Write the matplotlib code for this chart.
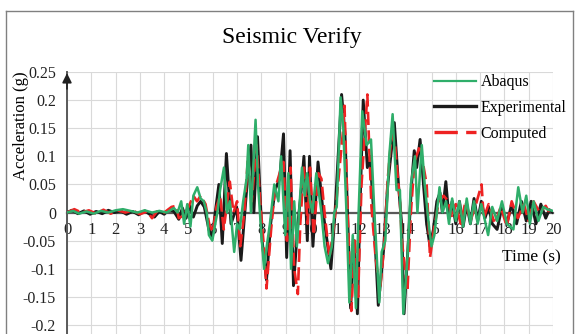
import numpy as np
import matplotlib
matplotlib.use('Agg')
import matplotlib.pyplot as plt
from matplotlib.lines import Line2D

plt.rcParams['font.family'] = ['Liberation Serif', 'DejaVu Serif']

# 读图得到的加速度时程 (time s, acceleration g)
abaqus_pts = [
    (0.0, 0.0), (0.25, 0.003), (0.5, -0.002), (0.8, 0.002), (1.1, -0.002), (1.4, 0.003),
    (1.7, 0.0), (2.0, 0.004), (2.3, 0.006), (2.6, 0.003), (2.9, 0.0), (3.2, 0.004),
    (3.5, 0.0), (3.8, 0.003), (4.1, 0.0), (4.4, 0.008), (4.55, 0.0), (4.7, 0.02),
    (4.82, -0.02), (4.95, 0.015), (5.08, -0.025), (5.2, 0.03), (5.36, 0.045), (5.5, 0.025),
    (5.63, 0.02), (5.75, 0.0), (5.84, -0.04), (5.98, -0.05), (6.1, -0.02), (6.19, 0.0),
    (6.3, 0.04), (6.46, 0.08), (6.58, 0.0), (6.7, 0.02), (6.88, -0.07), (7.0, -0.02),
    (7.11, -0.03), (7.25, 0.02), (7.39, 0.06), (7.46, 0.12), (7.57, 0.0), (7.76, 0.165),
    (7.86, 0.05), (8.0, -0.04), (8.11, -0.1), (8.22, -0.06), (8.35, -0.02), (8.53, 0.05),
    (8.7, 0.02), (8.81, 0.1), (8.98, -0.04), (9.11, 0.07), (9.22, -0.1), (9.35, 0.02),
    (9.46, -0.06), (9.67, 0.08), (9.78, 0.03), (9.88, 0.07), (10.0, 0.02), (10.1, 0.0),
    (10.26, 0.07), (10.47, 0.0), (10.6, -0.06), (10.74, -0.09), (10.9, -0.06), (11.0, 0.0),
    (11.1, 0.01), (11.26, 0.205), (11.37, 0.15), (11.5, 0.0), (11.62, -0.16), (11.76, -0.04),
    (11.89, -0.17), (12.0, 0.0), (12.15, 0.18), (12.33, 0.12), (12.51, 0.13), (12.65, 0.0),
    (12.85, -0.16), (12.95, -0.07), (13.1, -0.05), (13.26, 0.1), (13.4, 0.175), (13.56, 0.04),
    (13.7, 0.04), (13.84, -0.18), (14.01, -0.08), (14.15, 0.05), (14.32, 0.1), (14.42, 0.0),
    (14.6, 0.12), (14.72, 0.05), (14.91, -0.03), (15.0, -0.06), (15.12, -0.04), (15.22, 0.0),
    (15.33, 0.045), (15.45, 0.0), (15.6, 0.02), (15.72, -0.02), (15.85, 0.025), (16.0, -0.015),
    (16.15, 0.02), (16.3, -0.025), (16.45, 0.025), (16.6, -0.02), (16.75, 0.02), (16.9, -0.02),
    (17.05, 0.015), (17.33, -0.04), (17.5, 0.01), (17.7, -0.015), (17.9, 0.02), (18.1, -0.02),
    (18.37, -0.03), (18.57, 0.045), (18.75, 0.0), (18.9, 0.03), (19.05, -0.02), (19.2, 0.02),
    (19.4, -0.015), (19.6, 0.01), (19.8, 0.005), (20.0, 0.003),
]

experimental_pts = [
    (0.0, 0.0), (0.2, 0.004), (0.45, -0.002), (0.7, 0.003), (0.95, -0.003), (1.2, 0.002),
    (1.45, -0.002), (1.7, 0.004), (1.95, 0.0), (2.2, 0.003), (2.45, -0.003), (2.7, 0.002),
    (2.95, -0.004), (3.2, 0.003), (3.4, -0.003), (3.6, -0.008), (3.8, 0.002), (4.0, -0.003),
    (4.2, 0.005), (4.4, 0.002), (4.6, -0.012), (4.75, 0.008), (4.9, -0.01), (5.05, 0.012),
    (5.2, -0.008), (5.36, 0.012), (5.5, 0.02), (5.65, 0.01), (5.84, -0.03), (5.98, -0.045),
    (6.1, 0.0), (6.25, 0.05), (6.39, -0.055), (6.56, 0.105), (6.75, -0.02), (6.98, 0.01),
    (7.16, -0.085), (7.39, 0.04), (7.57, 0.12), (7.69, 0.0), (7.84, 0.135), (8.03, -0.05),
    (8.21, -0.12), (8.38, -0.02), (8.56, 0.04), (8.75, 0.06), (8.91, 0.14), (9.04, -0.08),
    (9.18, 0.11), (9.32, -0.13), (9.5, -0.02), (9.62, 0.03), (9.75, 0.1), (9.89, -0.05),
    (9.98, 0.1), (10.12, -0.06), (10.33, 0.09), (10.54, 0.0), (10.7, -0.05), (10.86, -0.1),
    (11.03, 0.0), (11.3, 0.21), (11.44, 0.14), (11.58, -0.05), (11.67, -0.17), (11.81, -0.05),
    (11.95, -0.18), (12.05, 0.0), (12.19, 0.2), (12.36, 0.08), (12.47, 0.1), (12.62, 0.0),
    (12.81, -0.165), (13.02, -0.07), (13.2, 0.05), (13.47, 0.16), (13.64, 0.05), (13.77, -0.02),
    (13.87, -0.18), (14.05, -0.05), (14.18, 0.05), (14.29, 0.11), (14.39, 0.08), (14.53, 0.13),
    (14.67, 0.05), (14.8, -0.02), (14.94, -0.06), (15.08, -0.03), (15.22, 0.02), (15.35, 0.035),
    (15.45, 0.0), (15.59, 0.055), (15.72, -0.01), (15.85, 0.02), (16.0, -0.02), (16.15, 0.02),
    (16.3, -0.025), (16.45, 0.015), (16.6, -0.02), (16.75, 0.025), (16.9, -0.015), (17.05, 0.02),
    (17.2, -0.01), (17.35, 0.01), (17.5, -0.02), (17.7, -0.03), (17.9, 0.01), (18.1, -0.02),
    (18.3, 0.015), (18.5, -0.02), (18.7, 0.02), (18.9, -0.015), (19.1, 0.02), (19.3, -0.02),
    (19.5, 0.015), (19.7, -0.01), (19.85, 0.005), (20.0, 0.0),
]

computed_pts = [
    (0.0, 0.0), (0.3, 0.006), (0.6, 0.0), (0.9, 0.004), (1.2, -0.002), (1.5, 0.005),
    (1.8, -0.002), (2.1, 0.004), (2.4, 0.0), (2.7, 0.004), (3.0, -0.003), (3.3, 0.002),
    (3.5, -0.01), (3.7, 0.002), (4.0, 0.0), (4.3, 0.01), (4.5, 0.012), (4.6, -0.01),
    (4.8, -0.005), (5.0, 0.01), (5.2, 0.03), (5.35, 0.02), (5.5, 0.03), (5.7, 0.015),
    (5.85, -0.02), (6.0, -0.035), (6.15, 0.01), (6.3, 0.03), (6.45, -0.03), (6.7, 0.055),
    (6.85, 0.0), (7.0, 0.02), (7.13, -0.06), (7.3, 0.0), (7.45, 0.1), (7.6, 0.02),
    (7.8, 0.12), (7.95, 0.02), (8.1, -0.06), (8.21, -0.135), (8.4, -0.03), (8.55, 0.04),
    (8.75, 0.07), (8.91, 0.09), (9.05, -0.05), (9.2, 0.08), (9.35, -0.1), (9.5, -0.145),
    (9.6, -0.02), (9.75, 0.08), (9.9, -0.02), (10.0, 0.08), (10.15, -0.04), (10.35, 0.07),
    (10.47, 0.06), (10.6, 0.0), (10.8, -0.08), (11.0, -0.02), (11.15, 0.05), (11.37, 0.15),
    (11.42, 0.19), (11.55, 0.0), (11.7, -0.175), (11.85, -0.05), (11.98, -0.15), (12.12, 0.05),
    (12.36, 0.21), (12.45, 0.1), (12.53, 0.01), (12.7, -0.08), (12.88, -0.14), (13.05, -0.06),
    (13.2, 0.06), (13.36, 0.14), (13.5, 0.12), (13.7, 0.02), (13.78, -0.05), (14.01, -0.14),
    (14.15, 0.0), (14.3, 0.09), (14.53, 0.12), (14.68, 0.08), (14.8, 0.05), (14.94, -0.08),
    (15.1, -0.03), (15.3, 0.02), (15.5, 0.03), (15.69, 0.02), (15.85, -0.01), (16.0, 0.015),
    (16.2, -0.02), (16.4, 0.02), (16.6, -0.015), (16.8, 0.01), (17.06, 0.05), (17.15, -0.01),
    (17.35, 0.015), (17.6, -0.02), (17.85, 0.01), (18.1, -0.025), (18.3, 0.02), (18.55, -0.01),
    (18.8, 0.015), (19.0, -0.015), (19.2, 0.02), (19.45, 0.0), (19.7, 0.012), (19.85, 0.0),
    (20.0, -0.003),
]

x_ticks = list(range(0, 21))
y_ticks = [-0.2, -0.15, -0.1, -0.05, 0, 0.05, 0.1, 0.15, 0.2, 0.25]
y_labels = ['-0.2', '-0.15', '-0.1', '-0.05', '0', '0.05', '0.1', '0.15', '0.2', '0.25']

C_GREEN = '#2fae6a'
C_BLACK = '#1a1a1a'
C_RED = '#ee2222'
C_AXIS = '#595959'

W, H = 575, 334
fig = plt.figure(figsize=(W / 100, H / 100), dpi=100)
ax = fig.add_axes([67 / W, 0, 486 / W, 262 / H])

ab = np.array(abaqus_pts)
ex = np.array(experimental_pts)
cp = np.array(computed_pts)

ax.plot(ex[:, 0], ex[:, 1], color=C_BLACK, lw=2.1, zorder=3, label='Experimental')
ax.plot(cp[:, 0], cp[:, 1], color=C_RED, lw=1.9, dashes=(5, 2), zorder=4, label='Computed')
ax.plot(ab[:, 0], ab[:, 1], color=C_GREEN, lw=1.8, zorder=5, label='Abaqus')

ax.set_xlim(0, 20)
ax.set_ylim(-0.216, 0.25)
ax.set_xticks(x_ticks)
ax.set_yticks(y_ticks)
ax.set_yticklabels(y_labels)
ax.grid(True, color='#d9d9d9', lw=0.8, zorder=0)
ax.set_axisbelow(True)

for s in ['top', 'right']:
    ax.spines[s].set_visible(False)
ax.spines['bottom'].set_position(('data', 0))
ax.spines['bottom'].set_color(C_AXIS)
ax.spines['bottom'].set_linewidth(1.6)
ax.spines['bottom'].set_zorder(2)
ax.spines['left'].set_color(C_AXIS)
ax.spines['left'].set_linewidth(1.4)
ax.tick_params(axis='both', length=0, labelsize=11.5, colors='#222222')
ax.tick_params(axis='x', pad=7, labelsize=12)
ax.tick_params(axis='y', pad=8)

# 纵轴箭头
ax.annotate('', xy=(0, 0.253), xytext=(0, 0.215),
            arrowprops=dict(arrowstyle='-|>', color='#222222', lw=1.2,
                            mutation_scale=14),
            annotation_clip=False)

fig.text(292 / W, 1 - 38 / H, 'Seismic Verify', ha='center', va='center', fontsize=17)
fig.text(21 / W, 1 - 126 / H, 'Acceleration (g)', ha='center', va='center',
         rotation=90, fontsize=12)
fig.text(531 / W, 1 - 257 / H, 'Time (s)', ha='center', va='center', fontsize=12.5)

handles = [Line2D([], [], color=C_GREEN, lw=1.6),
           Line2D([], [], color=C_BLACK, lw=2.4),
           Line2D([], [], color=C_RED, lw=2.4, dashes=(7, 2.5))]
fig.legend(handles, ['Abaqus', 'Experimental', 'Computed'],
           loc='upper left', bbox_to_anchor=(428 / W, 1 - 68 / H),
           frameon=False, fontsize=11.5, handlelength=2.6, handletextpad=0.3,
           labelspacing=0.6, borderaxespad=0)

# 外框
frame_kw = dict(color='#808080', lw=1.0, transform=fig.transFigure, clip_on=False)
fig.add_artist(Line2D([5.5 / W, 5.5 / W], [0, 1 - 10.5 / H], **frame_kw))
fig.add_artist(Line2D([5.5 / W, 572.5 / W], [1 - 10.5 / H, 1 - 10.5 / H], **frame_kw))
fig.add_artist(Line2D([572.5 / W, 572.5 / W], [0, 1 - 10.5 / H], **frame_kw))

fig.savefig('out.png', dpi=100, facecolor='white')
